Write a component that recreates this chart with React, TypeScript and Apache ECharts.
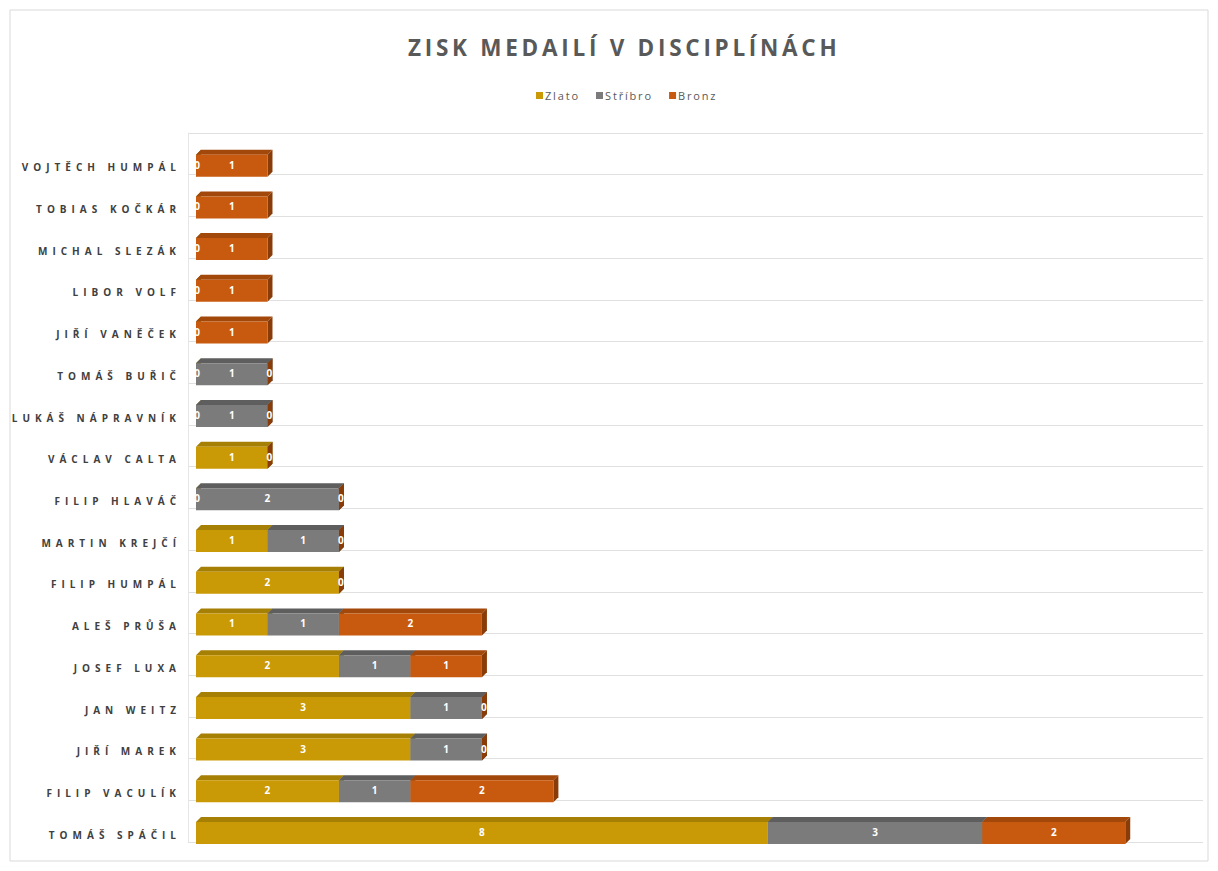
import React, { useEffect, useRef } from "react";
import * as echarts from "echarts";

const categories = [
  "VOJTĚCH HUMPÁL", "TOBIAS KOČKÁR", "MICHAL SLEZÁK", "LIBOR VOLF", "JIŘÍ VANĚČEK",
  "TOMÁŠ BUŘIČ", "LUKÁŠ NÁPRAVNÍK", "VÁCLAV CALTA", "FILIP HLAVÁČ", "MARTIN KREJČÍ",
  "FILIP HUMPÁL", "ALEŠ PRŮŠA", "JOSEF LUXA", "JAN WEITZ", "JIŘÍ MAREK",
  "FILIP VACULÍK", "TOMÁŠ SPÁČIL",
];
const zlato: (number | null)[] = [0, 0, 0, 0, 0, 0, 0, 1, 0, 1, 2, 1, 2, 3, 3, 2, 8];
const stribro: (number | null)[] = [null, null, null, null, null, 1, 1, null, 2, 1, null, 1, 1, 1, 1, 1, 3];
const bronz: (number | null)[] = [1, 1, 1, 1, 1, 0, 0, 0, 0, 0, 0, 2, 1, 0, 0, 2, 2];

const seriesNames = ["Zlato", "Stříbro", "Bronz"];
const seriesValues = [zlato, stribro, bronz];
const frontColors = ["#C99A06", "#7B7B7B", "#C85A0F"];
const topColors = ["#A67F05", "#5E5E5E", "#A3480B"];
const sideColors = ["#8C6A03", "#4A4A4A", "#8A3C08"];

const spaced = (s: string, sep: string) => s.split("").join(sep);

export default function App() {
  const ref = useRef<HTMLDivElement>(null);
  useEffect(() => {
    if (!ref.current) return;
    const chart = echarts.init(ref.current, null, { renderer: "svg" });

    const starts = categories.map(() => 0);
    const series: any[] = seriesValues.map((vals, si) => {
      const data: any[] = [];
      vals.forEach((v, ci) => {
        if (v === null || v === undefined) return;
        const s = starts[ci];
        starts[ci] += v;
        data.push([s, s + v, ci, v]);
      });
      return {
        type: "custom",
        name: seriesNames[si],
        itemStyle: { color: frontColors[si] },
        data,
        encode: { x: [0, 1], y: 2 },
        renderItem: (params: any, api: any) => {
          const ci = api.value(2);
          const p0 = api.coord([api.value(0), ci]);
          const p1 = api.coord([api.value(1), ci]);
          const band = api.size([0, 1])[1];
          const off = 8;
          const x0 = p0[0] + off;
          const x1 = p1[0] + off;
          const bottom = p0[1] + band / 2 + 2;
          const h = 22;
          const top = bottom - h;
          const d = 5;
          const val = api.value(3);
          const children: any[] = [
            {
              type: "polygon",
              shape: { points: [[x0, top], [x0 + d, top - d], [x1 + d, top - d], [x1, top]] },
              style: { fill: topColors[si] },
            },
            {
              type: "polygon",
              shape: { points: [[x1, top], [x1 + d, top - d], [x1 + d, bottom - d], [x1, bottom]] },
              style: { fill: sideColors[si] },
            },
            {
              type: "rect",
              shape: { x: x0, y: top, width: Math.max(0, x1 - x0), height: h },
              style: { fill: frontColors[si] },
            },
            {
              type: "text",
              z2: 50,
              x: val === 0 ? (si === 0 ? x0 + 1 : x1 + 2) : (x0 + x1) / 2,
              y: (top + bottom) / 2 - 1,
              style: {
                text: String(val),
                fill: "#FFFFFF",
                font: "bold 10px 'Open Sans', sans-serif",
                align: "center",
                verticalAlign: "middle",
              },
            },
          ];
          return { type: "group", children };
        },
      };
    });

    chart.setOption({
      animation: false,
      backgroundColor: "#FFFFFF",
      title: {
        text: spaced("ZISK MEDAILÍ V DISCIPLÍNÁCH", "\u2009"),
        left: 403,
        top: 31,
        textStyle: {
          fontFamily: "'Open Sans', sans-serif",
          fontSize: 22.5,
          fontWeight: "bold",
          color: "#595959",
        },
      },
      legend: {
        top: 85,
        left: 531,
        icon: "rect",
        itemWidth: 7,
        itemHeight: 7,
        itemGap: 18,
        formatter: (n: string) => spaced(n, "\u2009"),
        textStyle: { fontFamily: "'Open Sans', sans-serif", fontSize: 11, color: "#595959", padding: [0, 0, 0, -3] },
        data: seriesNames,
      },
      grid: { left: 188, right: 15, top: 133, bottom: 29 },
      xAxis: { type: "value", min: 0, max: 14.2, show: false },
      yAxis: {
        type: "category",
        data: categories,
        inverse: true,
        axisLine: { show: true, lineStyle: { color: "#E6E6E6" } },
        axisTick: { show: false },
        splitLine: { show: true, lineStyle: { color: "#E0E0E0", width: 1 } },
        axisLabel: {
          margin: 12,
          fontFamily: "'Open Sans', sans-serif",
          fontSize: 10,
          fontWeight: "bold",
          color: "#404040",
          verticalAlign: "top",
          lineHeight: 27,
          formatter: (v: string) => spaced(v, "\u2002"),
        },
      },
      graphic: [
        {
          type: "rect",
          shape: { x: 10, y: 10, width: 1198, height: 851 },
          style: { fill: "none", stroke: "#D9D9D9", lineWidth: 1 },
          silent: true,
        },
      ],
      series,
    });
    return () => chart.dispose();
  }, []);
  return <div ref={ref} style={{ position: "fixed", left: 0, top: 0, width: 1218, height: 871 }} />;
}
